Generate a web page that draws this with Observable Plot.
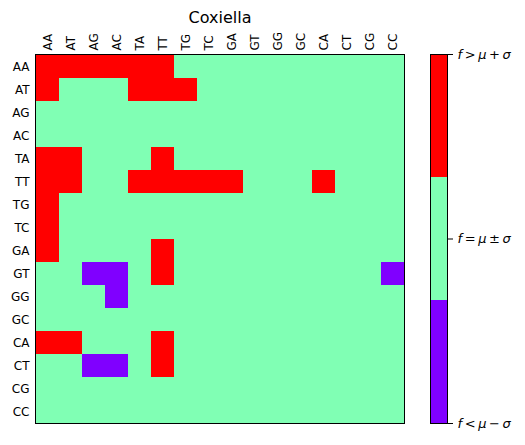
<!DOCTYPE html>
<html>
<head>
<meta charset="utf-8">
<script src="https://cdn.jsdelivr.net/npm/d3@7"></script>
<script src="https://cdn.jsdelivr.net/npm/@observablehq/plot@0.6"></script>
<style>
  html, body { margin: 0; padding: 0; background: white; }
  #wrap { position: relative; width: 525px; height: 445px; }
  #wrap > svg { position: absolute; left: 0; top: 0; }
</style>
</head>
<body>
<div id="wrap"></div>
<script>
const title = "Coxiella";
const labels = ["AA","AT","AG","AC","TA","TT","TG","TC","GA","GT","GG","GC","CA","CT","CG","CC"];
// 1: f > mu + sigma, 0: f = mu ± sigma, -1: f < mu - sigma
const rowAA = [1,1,1,1,1,1,0,0,0,0,0,0,0,0,0,0];
const rowAT = [1,0,0,0,1,1,1,0,0,0,0,0,0,0,0,0];
const rowAG = [0,0,0,0,0,0,0,0,0,0,0,0,0,0,0,0];
const rowAC = [0,0,0,0,0,0,0,0,0,0,0,0,0,0,0,0];
const rowTA = [1,1,0,0,0,1,0,0,0,0,0,0,0,0,0,0];
const rowTT = [1,1,0,0,1,1,1,1,1,0,0,0,1,0,0,0];
const rowTG = [1,0,0,0,0,0,0,0,0,0,0,0,0,0,0,0];
const rowTC = [1,0,0,0,0,0,0,0,0,0,0,0,0,0,0,0];
const rowGA = [1,0,0,0,0,1,0,0,0,0,0,0,0,0,0,0];
const rowGT = [0,0,-1,-1,0,1,0,0,0,0,0,0,0,0,0,-1];
const rowGG = [0,0,0,-1,0,0,0,0,0,0,0,0,0,0,0,0];
const rowGC = [0,0,0,0,0,0,0,0,0,0,0,0,0,0,0,0];
const rowCA = [1,1,0,0,0,1,0,0,0,0,0,0,0,0,0,0];
const rowCT = [0,0,-1,-1,0,1,0,0,0,0,0,0,0,0,0,0];
const rowCG = [0,0,0,0,0,0,0,0,0,0,0,0,0,0,0,0];
const rowCC = [0,0,0,0,0,0,0,0,0,0,0,0,0,0,0,0];
const rows = [rowAA,rowAT,rowAG,rowAC,rowTA,rowTT,rowTG,rowTC,rowGA,rowGT,rowGG,rowGC,rowCA,rowCT,rowCG,rowCC];

const levels = [-1, 0, 1];
const levelColors = ["#8000ff", "#80ffb4", "#ff0000"];
const levelLabels = ["f<μ−σ", "f=μ±σ", "f>μ+σ"];

const cells = [];
rows.forEach((r, i) => r.forEach((v, j) => cells.push({row: labels[i], col: labels[j], v})));

const font = "DejaVu Sans, sans-serif";
const colorScale = {type: "ordinal", domain: levels, range: levelColors};

const main = Plot.plot({
  width: 525, height: 445,
  marginLeft: 35, marginRight: 121, marginTop: 54, marginBottom: 22,
  style: {fontFamily: font, fontSize: "12px", background: "transparent", color: "black"},
  x: {domain: labels, axis: "top", tickSize: 0, tickPadding: 4, tickRotate: -90, label: null, padding: 0},
  y: {domain: labels, tickSize: 0, tickPadding: 6, label: null, padding: 0},
  color: colorScale,
  marks: [
    Plot.cell(cells, {x: "col", y: "row", fill: "v", shapeRendering: "crispEdges"}),
    Plot.frame({stroke: "black", strokeWidth: 1}),
    Plot.text([title], {frameAnchor: "top", lineAnchor: "middle", dy: -37, fontSize: 16, fill: "black"})
  ]
});

// colorbar segments: equal-height bands for each level across [-1, 1]
const span = (levels[levels.length - 1] - levels[0]) / levels.length;
const segs = levels.map((v, i) => ({v, lo: levels[0] + i * span, hi: levels[0] + (i + 1) * span}));

const cbar = Plot.plot({
  width: 525, height: 445,
  marginLeft: 430, marginRight: 78, marginTop: 54, marginBottom: 22,
  style: {fontFamily: font, fontSize: "13px", background: "transparent", color: "black"},
  x: {domain: [0, 1], axis: null},
  y: {domain: [levels[0], levels[levels.length - 1]], axis: "right", ticks: levels, tickSize: 5, tickPadding: 5,
      tickFormat: d => levelLabels[levels.indexOf(d)], label: null},
  color: colorScale,
  marks: [
    Plot.rect(segs, {y1: "lo", y2: "hi", fill: "v", shapeRendering: "crispEdges"}),
    Plot.frame({stroke: "black", strokeWidth: 1})
  ]
});

const wrap = document.getElementById("wrap");
wrap.appendChild(main);
wrap.appendChild(cbar);

// math-style labels: italic letters, upright operators with thin gaps
d3.select(cbar).selectAll("g[aria-label='y-axis tick label'] text").each(function() {
  const s = this.textContent;
  const t = d3.select(this);
  t.text(null);
  for (const ch of s) {
    const isLetter = /[a-zμσ]/.test(ch);
    const ts = t.append("tspan").text(isLetter ? ch : "\u2009" + ch + "\u2009");
    if (isLetter) ts.attr("font-style", "italic");
  }
});
</script>
</body>
</html>
